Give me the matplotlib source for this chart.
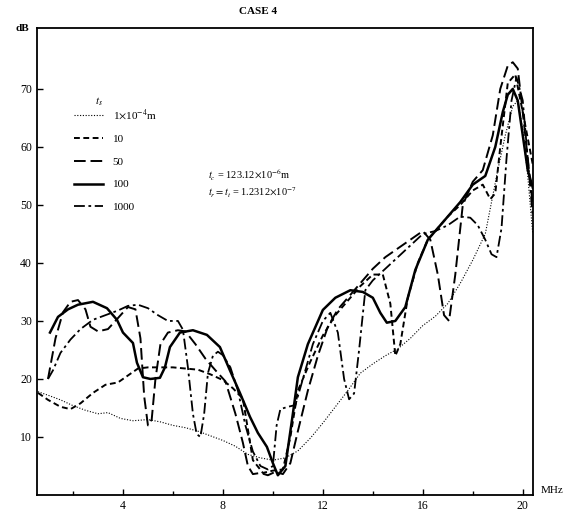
import matplotlib.pyplot as plt
from matplotlib.ticker import MultipleLocator

# frequency (MHz) / level (dB), one pair per curve
x_1e4 = [0.6, 1.0, 1.5, 2.0, 2.5, 3.0, 3.4, 3.9, 4.4, 5.0, 5.5, 6.0, 6.5, 7.0, 7.5, 8.0, 8.5,
         9.0, 9.5, 10.0, 10.5, 11.0, 11.5, 12.0, 12.5, 13.0, 13.5, 14.0, 14.5, 15.0, 15.5,
         16.0, 16.5, 17.0, 17.5, 18.0, 18.5, 19.0, 19.3, 19.6, 19.8, 20.0, 20.2, 20.4]
y_1e4 = [17.8, 17.2, 16.4, 15.4, 14.6, 14.0, 14.2, 13.2, 12.8, 13.0, 12.6, 12.0, 11.6, 11.0,
         10.2, 9.4, 8.4, 7.0, 6.4, 6.0, 6.4, 7.6, 9.8, 12.4, 15.2, 18.0, 21.0, 22.6, 24.0,
         25.2, 27.0, 29.2, 30.8, 33.0, 36.5, 40.5, 45.0, 56.0, 62.0, 67.0, 68.0, 63.0, 55.0, 45.0]

x_10 = [0.6, 1.0, 1.5, 1.9, 2.3, 2.8, 3.3, 3.8, 4.2, 4.6, 5.0, 5.5, 6.0, 6.5, 7.0, 7.5, 8.0,
        8.4, 8.8, 9.2, 9.6, 10.0, 10.4, 10.7, 11.0, 11.5, 12.0, 12.5, 13.0, 13.5, 14.0, 14.4,
        14.7, 14.9, 15.1, 15.4, 15.8, 16.2, 16.6, 17.0, 17.5, 18.0, 18.4, 18.7, 18.9, 19.1,
        19.4, 19.7, 20.0, 20.4]
y_10 = [17.6, 16.4, 15.2, 14.8, 15.8, 17.6, 19.0, 19.4, 20.6, 21.8, 22.0, 22.0, 22.0, 21.8,
        21.6, 20.8, 19.8, 18.4, 16.6, 6.0, 3.8, 4.2, 4.4, 10.0, 18.0, 23.0, 27.5, 31.0, 33.5,
        36.0, 38.0, 38.0, 33.0, 24.0, 26.0, 34.0, 40.0, 44.0, 46.0, 48.0, 50.0, 52.5, 53.5,
        51.0, 52.0, 60.0, 71.0, 72.5, 66.0, 57.0]

x_50 = [1.0, 1.3, 1.6, 1.9, 2.2, 2.5, 2.7, 3.0, 3.4, 3.8, 4.2, 4.5, 4.7, 4.85, 5.0, 5.15, 5.3,
        5.5, 5.8, 6.2, 6.5, 6.9, 7.3, 7.7, 8.1, 8.5, 8.8, 9.0, 9.2, 9.5, 9.8, 10.1, 10.4, 10.7,
        11.0, 11.4, 11.8, 12.2, 12.6, 13.0, 13.5, 14.0, 14.5, 15.0, 15.5, 16.0, 16.3, 16.6,
        16.85, 17.05, 17.3, 17.6, 18.0, 18.4, 18.8, 19.1, 19.4, 19.6, 19.8, 20.0, 20.4]
y_50 = [20.0, 27.0, 31.5, 33.3, 33.6, 32.0, 29.0, 28.2, 28.6, 30.5, 32.4, 32.0, 27.0, 17.0,
        12.0, 13.0, 20.0, 26.0, 28.0, 28.4, 28.2, 26.0, 23.5, 21.5, 19.6, 14.0, 9.0, 5.0, 3.6,
        3.8, 3.4, 4.0, 3.6, 5.5, 11.0, 18.0, 24.0, 29.0, 32.0, 34.0, 36.5, 39.0, 41.0, 42.5,
        44.0, 45.5, 44.0, 38.0, 31.0, 30.0, 38.0, 50.0, 54.0, 56.0, 62.0, 70.0, 74.0, 74.6,
        73.5, 66.0, 50.0]

x_100 = [1.08, 1.4, 1.8, 2.2, 2.8, 3.36, 3.76, 4.0, 4.4, 4.56, 4.8, 5.1, 5.48, 5.68, 5.88,
         6.28, 6.8, 7.36, 7.88, 8.28, 8.68, 9.08, 9.4, 9.76, 10.0, 10.2, 10.5, 10.8, 11.0,
         11.4, 12.0, 12.5, 13.1, 13.6, 14.0, 14.3, 14.56, 14.9, 15.3, 15.7, 16.2, 16.6, 17.0,
         17.5, 18.0, 18.5, 18.9, 19.2, 19.4, 19.6, 19.8, 20.0, 20.2, 20.4]
y_100 = [28.0, 30.7, 32.0, 32.8, 33.3, 32.2, 30.2, 28.0, 26.2, 22.8, 20.3, 20.0, 20.2, 22.0,
         25.5, 28.0, 28.4, 27.6, 25.5, 21.5, 17.6, 13.5, 10.7, 8.3, 5.5, 3.4, 5.0, 14.0, 20.3,
         26.0, 31.9, 34.0, 35.3, 35.0, 34.0, 31.4, 29.7, 30.0, 32.4, 38.8, 44.0, 46.0, 48.0,
         50.5, 53.5, 55.0, 60.0, 66.0, 69.0, 70.0, 68.0, 62.0, 56.0, 53.0]

x_1000 = [1.0, 1.2, 1.5, 1.9, 2.3, 2.8, 3.3, 3.8, 4.2, 4.6, 5.0, 5.4, 5.8, 6.2, 6.4, 6.6, 6.8,
          6.95, 7.1, 7.25, 7.4, 7.6, 7.8, 8.0, 8.3, 8.6, 8.9, 9.2, 9.5, 9.8, 10.0, 10.15, 10.3,
          10.6, 10.9, 11.2, 11.6, 12.0, 12.3, 12.6, 12.85, 13.05, 13.25, 13.45, 13.7, 14.0,
          14.5, 15.0, 15.5, 16.0, 16.5, 17.0, 17.5, 17.9, 18.2, 18.5, 18.75, 18.95, 19.15,
          19.35, 19.55, 19.75, 20.0, 20.2, 20.4]
y_1000 = [20.0, 21.5, 24.5, 26.8, 28.6, 30.2, 31.0, 31.8, 32.6, 32.8, 32.2, 31.0, 30.0, 30.0,
          28.5, 22.0, 14.0, 10.5, 10.0, 14.0, 21.0, 24.0, 24.7, 24.1, 22.0, 18.0, 12.0, 7.5,
          5.0, 4.4, 5.0, 12.0, 14.8, 15.2, 15.5, 20.0, 26.0, 30.0, 31.4, 28.0, 20.0, 16.5, 17.5,
          25.0, 35.3, 37.0, 39.0, 41.0, 43.0, 45.0, 45.5, 46.5, 48.0, 47.8, 46.5, 44.0, 41.5,
          41.0, 46.0, 58.0, 68.0, 72.0, 68.0, 58.0, 48.0]

labels = [r"1$\times$10$^{-4}$m", "10", "50", "100", "1000"]

plt.rcParams['font.family'] = ['Liberation Serif', 'DejaVu Serif']
plt.rcParams['mathtext.fontset'] = 'stix'

fig = plt.figure(figsize=(5.64, 5.14), dpi=100)
ax = fig.add_axes([0.0656, 0.037, 0.879, 0.9085])

ax.plot(x_1e4, y_1e4, color='black', lw=0.8, ls=(0, (1, 1.5)), label=labels[0])
ax.plot(x_10, y_10, color='black', lw=1.4, ls=(0, (3, 1.8)), label=labels[1])
ax.plot(x_50, y_50, color='black', lw=1.4, ls=(0, (6, 2.5)), label=labels[2])
ax.plot(x_100, y_100, color='black', lw=1.8, ls='-', label=labels[3])
ax.plot(x_1000, y_1000, color='black', lw=1.3, ls=(0, (6, 2, 1.5, 2)), label=labels[4])

ax.set_xlim(0.56, 20.4)
ax.set_ylim(0, 80.5)
ax.xaxis.set_minor_locator(MultipleLocator(2))
ax.set_xticks([4, 8, 12, 16, 20])
ax.set_yticks([10, 20, 30, 40, 50, 60, 70])
ax.tick_params(direction='in', length=4, width=1, labelsize=8.5, top=False, right=False)
ax.tick_params(which='minor', direction='in', length=3, width=1, top=False, right=False)
for s in ax.spines.values():
    s.set_linewidth(1.3)

# legend: header as plain text, entries below it
ax.text(0.118, 0.842, r"$t_s$", transform=ax.transAxes, fontsize=8, va='center')
ax.legend(loc='upper left', bbox_to_anchor=(0.065, 0.84), frameon=False, fontsize=8,
          handlelength=2.6, labelspacing=1.15, handletextpad=0.9, borderaxespad=0)

ax.text(0.345, 0.685, r"$t_c$ = 123.12$\times$10$^{-6}$m", transform=ax.transAxes,
        fontsize=7.5, va='center')
ax.text(0.345, 0.647, r"$t_r = t_t$ = 1.2312$\times$10$^{-7}$", transform=ax.transAxes,
        fontsize=7.5, va='center')

ax.text(-0.015, 1.0, "dB", transform=ax.transAxes, ha='right', va='center',
        fontsize=8, fontweight='bold')
ax.text(1.015, 0.01, "MHz", transform=ax.transAxes, ha='left', va='center', fontsize=8)
fig.text(0.458, 0.977, "CASE 4", ha='center', va='center', fontsize=8, fontweight='bold')

fig.savefig("out.png", dpi=100)
